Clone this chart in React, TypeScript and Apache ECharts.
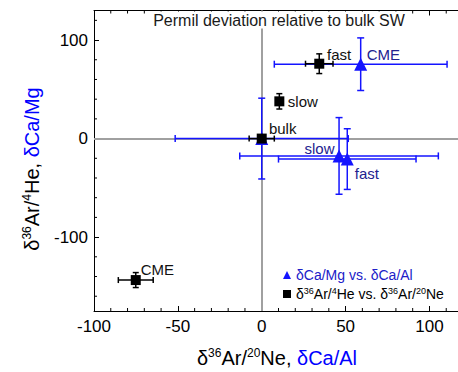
import React, { useEffect, useRef } from "react";
import * as echarts from "echarts";

// δ36Ar/4He (y) vs δ36Ar/20Ne (x) — black squares
const arNames = ["fast", "slow", "bulk", "CME"];
const arX = [34.3, 10.5, 0, -75.1];
const arY = [76, 37.8, 0, -143.6];
const arXErr = [8.2, 0, 7.5, 10.4];
const arYErr = [10, 7.8, 0, 7.6];

// δCa/Mg (y) vs δCa/Al (x) — blue triangles
const caNames = ["CME", "slow", "fast", "bulk"];
const caX = [59, 46.1, 51, 0];
const caY = [75.5, -17.6, -20.8, 0];
const caXErr = [51.5, 59.2, 41, 51.6];
const caYErr = [26.7, 38.9, 30.8, 41];

// axis ticks
const xMajorTicks = [-100, -50, 0, 50, 100];
const xMinorTicks = [-90, -80, -70, -60, -40, -30, -20, -10, 10, 20, 30, 40, 60, 70, 80, 90, 110];
const yMajorTicks = [-100, 0, 100];
const yMinorTicks = [-160, -140, -120, -80, -60, -40, -20, 20, 40, 60, 80, 120];
const X_MIN = -100;
const X_MAX = 120;
const Y_MIN = -175;
const Y_MAX = 130;

const caSeriesName = "δCa/Mg vs. δCa/Al";
const arSeriesName = "δ36Ar/4He vs. δ36Ar/20Ne";

// label placement (style): [dx, dy, align]
const arLabelPlace: Record<string, [number, number, string]> = {
  fast: [7.7, -9.5, "left"],
  slow: [8.5, 0, "left"],
  bulk: [7.2, -10, "left"],
  CME: [5, -11, "left"],
};
const caLabelPlace: Record<string, [number, number, string] | null> = {
  CME: [6, -9.5, "left"],
  slow: [-4.5, -7, "right"],
  fast: [7.5, 14, "left"],
  bulk: null,
};

const FONT = "Liberation Sans, Arial, Helvetica, sans-serif";
const BLUE = "#1414ff";
const BLUE_TEXT = "#22228f";
const LEGEND_BLUE = "#2020c8";

function errorBars(xs: number[], ys: number[], xe: number[], ye: number[], color: string, cap: number, z: number) {
  return {
    type: "custom",
    z,
    silent: true,
    encode: { x: 0, y: 1 },
    data: xs.map((x, i) => [x, ys[i], xe[i], ye[i]]),
    renderItem: (params: any, api: any) => {
      const x = api.value(0);
      const y = api.value(1);
      const dx = api.value(2);
      const dy = api.value(3);
      const style = { stroke: color, lineWidth: 1.5 };
      const children: any[] = [];
      if (dx > 0) {
        const l = api.coord([x - dx, y]);
        const r = api.coord([x + dx, y]);
        children.push({ type: "line", shape: { x1: l[0], y1: l[1], x2: r[0], y2: r[1] }, style });
        children.push({ type: "line", shape: { x1: l[0], y1: l[1] - cap, x2: l[0], y2: l[1] + cap }, style });
        children.push({ type: "line", shape: { x1: r[0], y1: r[1] - cap, x2: r[0], y2: r[1] + cap }, style });
      }
      if (dy > 0) {
        const t = api.coord([x, y + dy]);
        const b = api.coord([x, y - dy]);
        children.push({ type: "line", shape: { x1: t[0], y1: t[1], x2: b[0], y2: b[1] }, style });
        children.push({ type: "line", shape: { x1: t[0] - cap, y1: t[1], x2: t[0] + cap, y2: t[1] }, style });
        children.push({ type: "line", shape: { x1: b[0] - cap, y1: b[1], x2: b[0] + cap, y2: b[1] }, style });
      }
      return { type: "group", children };
    },
  };
}

function labelFor(place: [number, number, string] | null, color: string) {
  if (!place) return { show: false };
  return {
    show: true,
    formatter: "{b}",
    position: ["50%", "50%"],
    offset: [place[0], place[1]],
    align: place[2],
    verticalAlign: "middle",
    color,
    opacity: 1,
    textBorderWidth: 0,
    fontSize: 15,
    fontFamily: FONT,
  };
}

export default function App() {
  const ref = useRef<HTMLDivElement>(null);

  useEffect(() => {
    if (!ref.current) return;
    const chart = echarts.init(ref.current, null, { renderer: "svg" });

    const axisCommon = {
      type: "value",
      splitLine: { show: false },
      axisLine: { show: true, onZero: false, lineStyle: { color: "#000", width: 1 } },
    };

    const supRich = {
      n: { fontSize: 20, fontFamily: FONT, fill: "#000", lineHeight: 22 },
      s: { fontSize: 12, fontFamily: FONT, fill: "#000", verticalAlign: "top", lineHeight: 22 },
      b: { fontSize: 20, fontFamily: FONT, fill: "#0000ff", lineHeight: 22 },
    };

    const option: any = {
      animation: false,
      backgroundColor: "#fff",
      grid: { left: 94, top: 10.5, width: 369, height: 300.5, containLabel: false },
      xAxis: [
        {
          ...axisCommon,
          position: "bottom",
          min: X_MIN,
          max: X_MAX,
          axisTick: { show: true, inside: true, length: 5, customValues: xMajorTicks, lineStyle: { color: "#000" } },
          axisLabel: { show: true, customValues: xMajorTicks, margin: 7, fontSize: 17, color: "#000", fontFamily: FONT },
        },
        {
          ...axisCommon,
          position: "top",
          min: X_MIN,
          max: X_MAX,
          axisTick: { show: true, inside: true, length: 5, customValues: xMajorTicks, lineStyle: { color: "#000" } },
          axisLabel: { show: false },
        },
      ],
      yAxis: [
        {
          ...axisCommon,
          position: "left",
          min: Y_MIN,
          max: Y_MAX,
          axisTick: { show: true, inside: true, length: 5, customValues: yMajorTicks, lineStyle: { color: "#000" } },
          axisLabel: { show: true, customValues: yMajorTicks, margin: 6, fontSize: 17, color: "#000", fontFamily: FONT },
        },
        {
          ...axisCommon,
          position: "right",
          min: Y_MIN,
          max: Y_MAX,
          axisTick: { show: true, inside: true, length: 5, customValues: yMajorTicks, lineStyle: { color: "#000" } },
          axisLabel: { show: false },
        },
      ],
      legend: {
        orient: "vertical",
        left: 283,
        top: 267,
        padding: 0,
        itemGap: 3,
        itemWidth: 8,
        itemHeight: 8,
        itemStyle: { borderWidth: 0, opacity: 1 },
        data: [
          { name: caSeriesName, icon: "triangle", textStyle: { color: LEGEND_BLUE } },
          { name: arSeriesName, icon: "rect", textStyle: { color: "#000" } },
        ],
        formatter: (name: string) => {
          if (name === arSeriesName) {
            return "{n|δ}{s|36}{n|Ar/}{s|4}{n|He vs. δ}{s|36}{n|Ar/}{s|20}{n|Ne}";
          }
          return name;
        },
        textStyle: {
          fontSize: 14,
          fontFamily: FONT,
          lineHeight: 16,
          rich: {
            n: { fontSize: 14, fontFamily: FONT, color: "#000", lineHeight: 16 },
            s: { fontSize: 9, fontFamily: FONT, color: "#000", verticalAlign: "top", lineHeight: 16 },
          },
        },
      },
      graphic: [
        {
          type: "text",
          x: 279,
          y: 20,
          z: 100,
          style: {
            text: "Permil deviation relative to bulk SW",
            font: `16px ${FONT}`,
            fill: "#1a1a1a",
            align: "center",
            verticalAlign: "middle",
            textAlign: "center",
            textVerticalAlign: "middle",
            backgroundColor: "#fff",
            padding: [1, 3, 0, 3],
          },
        },
        {
          type: "text",
          x: 277,
          y: 358,
          style: {
            text: "{n|δ}{s|36}{n|Ar/}{s|20}{n|Ne, }{b|δCa/Al}",
            rich: supRich,
            align: "center",
            verticalAlign: "middle",
            textAlign: "center",
            textVerticalAlign: "middle",
          },
        },
        {
          type: "text",
          x: 32,
          y: 169,
          rotation: Math.PI / 2,
          style: {
            text: "{n|δ}{s|36}{n|Ar/}{s|4}{n|He, }{b|δCa/Mg}",
            rich: supRich,
            align: "center",
            verticalAlign: "middle",
            textAlign: "center",
            textVerticalAlign: "middle",
          },
        },
      ],
      series: [
        // minor ticks on x (bottom and top) + zero reference lines
        {
          type: "custom",
          z: 1,
          silent: true,
          encode: { x: 0, y: 1 },
          data: xMinorTicks.map((v) => [v, 0]),
          renderItem: (params: any, api: any) => {
            const cs = params.coordSys;
            const px = api.coord([api.value(0), 0])[0];
            const style = { stroke: "#000", lineWidth: 1 };
            return {
              type: "group",
              children: [
                { type: "line", shape: { x1: px, y1: cs.y + cs.height, x2: px, y2: cs.y + cs.height - 3 }, style },
                { type: "line", shape: { x1: px, y1: cs.y, x2: px, y2: cs.y + 3 }, style },
              ],
            };
          },
          markLine: {
            silent: true,
            z: 1,
            symbol: ["none", "none"],
            label: { show: false },
            lineStyle: { color: "#a0a0a0", width: 2, type: "solid" },
            emphasis: { disabled: true },
            data: [{ xAxis: 0 }, { yAxis: 0 }],
          },
        },
        // minor ticks on y (left and right)
        {
          type: "custom",
          z: 1,
          silent: true,
          encode: { x: 0, y: 1 },
          data: yMinorTicks.map((v) => [0, v]),
          renderItem: (params: any, api: any) => {
            const cs = params.coordSys;
            const py = api.coord([0, api.value(1)])[1];
            const style = { stroke: "#000", lineWidth: 1 };
            return {
              type: "group",
              children: [
                { type: "line", shape: { x1: cs.x, y1: py, x2: cs.x + 3, y2: py }, style },
                { type: "line", shape: { x1: cs.x + cs.width, y1: py, x2: cs.x + cs.width - 3, y2: py }, style },
              ],
            };
          },
        },
        errorBars(caX, caY, caXErr, caYErr, BLUE, 3.5, 6),
        {
          name: caSeriesName,
          type: "scatter",
          z: 7,
          symbol: "triangle",
          symbolSize: 13,
          itemStyle: { color: BLUE, opacity: 1 },
          data: caX.map((x, i) => ({
            value: [x, caY[i]],
            name: caNames[i],
            label: labelFor(caLabelPlace[caNames[i]], BLUE_TEXT),
          })),
        },
        errorBars(arX, arY, arXErr, arYErr, "#000", 3, 8),
        {
          name: arSeriesName,
          type: "scatter",
          z: 9,
          symbol: "rect",
          symbolSize: 10,
          itemStyle: { color: "#000", opacity: 1 },
          data: arX.map((x, i) => ({
            value: [x, arY[i]],
            name: arNames[i],
            label: labelFor(arLabelPlace[arNames[i]], "#111"),
          })),
        },
      ],
    };

    chart.setOption(option);
    return () => chart.dispose();
  }, []);

  return (
    <div style={{ position: "fixed", left: 0, top: 0, width: 458, height: 372, overflow: "hidden", background: "#fff" }}>
      <div ref={ref} style={{ width: 470, height: 372 }} />
    </div>
  );
}
